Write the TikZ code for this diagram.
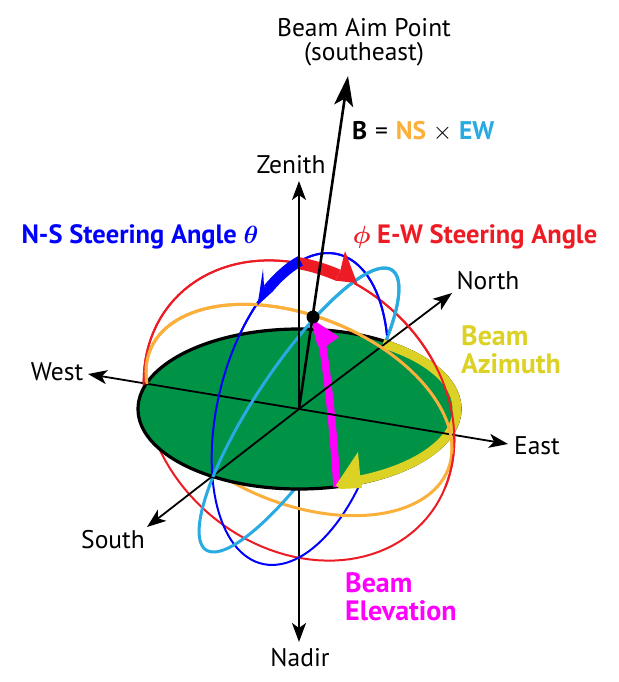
\documentclass[tikz,border=0pt]{standalone}
\usepackage{fontspec}
\setmainfont{PT Sans}
\usepackage{bm}
\usetikzlibrary{arrows.meta}
\definecolor{cgreen}{HTML}{009245}
\definecolor{cred}{HTML}{ED1C24}
\definecolor{cblue}{HTML}{0000FF}
\definecolor{clblue}{HTML}{29ABE2}
\definecolor{corange}{HTML}{FBB03B}
\definecolor{cyellow}{HTML}{DCD226}
\definecolor{cmag}{HTML}{FF00FF}
% ellipse parametrisations (pixel coordinates, y downwards)
\newcommand\redX[1]{299+127.9*cos(#1)-88.1*sin(#1)}
\newcommand\redY[1]{410.5+107.4*cos(#1)+104.9*sin(#1)}
\newcommand\orX[1]{299+149.0*cos(#1)-34.9*sin(#1)}
\newcommand\orY[1]{410+59.6*cos(#1)+87.3*sin(#1)}
\newcommand\blX[1]{300+38.3*cos(#1)+79.6*sin(#1)}
\newcommand\blY[1]{409-154.7*cos(#1)+19.7*sin(#1)}
\newcommand\lbX[1]{299+93.0*cos(#1)+36.6*sin(#1)}
\newcommand\lbY[1]{410-139.9*cos(#1)+24.3*sin(#1)}
\tikzset{
  axisarrow/.style={line width=1.8pt, -{Stealth[length=19pt,width=14pt,inset=5pt]}},
  thinring/.style={line width=2pt},
  thickring/.style={line width=3pt},
  lbl/.style={font=\fontsize{25.5}{24}\selectfont, inner sep=0pt},
  blbl/.style={font=\fontsize{26.5}{26}\selectfont\bfseries, inner sep=0pt},
  bigbl/.style={font=\fontsize{28}{28}\selectfont\bfseries, inner sep=0pt, anchor=base west},
}
\begin{document}
\begin{tikzpicture}[x=1pt,y=-1pt]
\fill[white] (0,0) rectangle (618,682);
\useasboundingbox (0,0) rectangle (618,682);

\coordinate (O) at (299,409);
\coordinate (Ztip) at (299,181);
\coordinate (Dtip) at (299,642);
\coordinate (Ntip) at (452,293);
\coordinate (Stip) at (147,527);
\coordinate (Wtip) at (88,374);
\coordinate (Etip) at (508,444);
\coordinate (Btip) at (348,76);
\coordinate (dot) at (313,317);

% nadir (behind the disk)
\draw[axisarrow] (O) -- (Dtip);

% full rings (lower / hidden parts)
\draw[cred, thinring] plot[domain=0:360, samples=120] ({\redX{\x}},{\redY{\x}});
\draw[cblue, thinring] plot[domain=0:360, samples=120] ({\blX{\x}},{\blY{\x}});
\draw[corange, thickring] plot[domain=0:360, samples=120] ({\orX{\x}},{\orY{\x}});
\draw[clblue, thickring] plot[domain=0:360, samples=120] ({\lbX{\x}},{\lbY{\x}});

% disk
\draw[fill=cgreen, line width=3.2pt] (299,409) ellipse (161 and 80);

% beam elevation (magenta)
\draw[cmag, line width=7.5pt] (337,487) .. controls (334,440) and (329,385) .. (322,342);
\fill[cmag] (310.5,318) -- (339,337) -- (326.5,346) -- (317.5,346) -- cycle;

% beam azimuth (yellow)
\draw[cyellow, line width=9pt] plot[domain=-58:68, samples=60] ({299+158*cos(\x)},{409+77*sin(\x)});
\fill[cyellow] (360,474) -- (358,452) -- (336,485) -- (340,489) -- (362,488) -- cycle;

% axes on the disk
\draw[axisarrow] (O) -- (Wtip);
\draw[axisarrow] (O) -- (Etip);
\draw[axisarrow] (O) -- (Ntip);
\draw[axisarrow] (O) -- (Stip);
\draw[axisarrow] (O) -- (Ztip);

% upper (visible) parts of the rings
\draw[cred, thinring] plot[domain=144:345, samples=80] ({\redX{\x}},{\redY{\x}});
\draw[cblue, thinring] plot[domain=-123:54.4, samples=80] ({\blX{\x}},{\blY{\x}});
\draw[corange, thickring] plot[domain=160:350, samples=80] ({\orX{\x}},{\orY{\x}});
\draw[clblue, thickring] plot[domain=-128:48, samples=80] ({\lbX{\x}},{\lbY{\x}});

% steering-angle arrows
\draw[cred, line width=12pt] plot[domain=235.5:250, samples=20] ({\redX{\x}},{\redY{\x}});
\fill[cred] (340.5,269.7) -- (345,251) -- (357,283) -- (335.7,280.7) -- cycle;
\draw[cblue, line width=10.5pt] plot[domain=-25.5:-47, samples=20] ({\blX{\x}},{\blY{\x}});
\fill[cblue] (264,285.9) -- (263,269) -- (257.5,305.5) -- (271.8,292.3) -- cycle;

% zenith line over bands, beam
\draw[line width=1.8pt] (O) -- (299,250);
\draw[line width=2.6pt, -{Stealth[length=30pt,width=19pt,inset=7pt]}] (O) -- (Btip);
\fill (dot) circle (6.5);

% labels
\node[lbl, align=center] (aim) at (364,42) {Beam Aim Point\\(southeast)};
\node[lbl, anchor=west] (beq) at (352,131) {\textbf{B}\hspace{1pt} = \hspace{1pt}\textcolor{corange}{\textbf{NS}} $\times$ \textcolor{clblue}{\textbf{EW}}};
\node[lbl] (zen) at (291,165) {Zenith};
\node[blbl, text=cblue] (nsa) at (140,237) {N-S Steering Angle $\bm{\theta}$};
\node[blbl, text=cred] (ewa) at (475,237) {$\bm{\phi}$ E-W Steering Angle};
\node[lbl] (nor) at (488,281) {North};
\node[bigbl, text=cyellow] (azi1) at (461,345) {Beam};
\node[bigbl, text=cyellow] (azi2) at (461,373) {Azimuth};
\node[lbl] (wes) at (57,372) {West};
\node[lbl] (eas) at (537,446) {East};
\node[lbl] (sou) at (113,540) {South};
\node[bigbl, text=cmag] (ele1) at (345,592) {Beam};
\node[bigbl, text=cmag] (ele2) at (345,620) {Elevation};
\node[lbl] (nad) at (300,658) {Nadir};
\end{tikzpicture}
\end{document}
